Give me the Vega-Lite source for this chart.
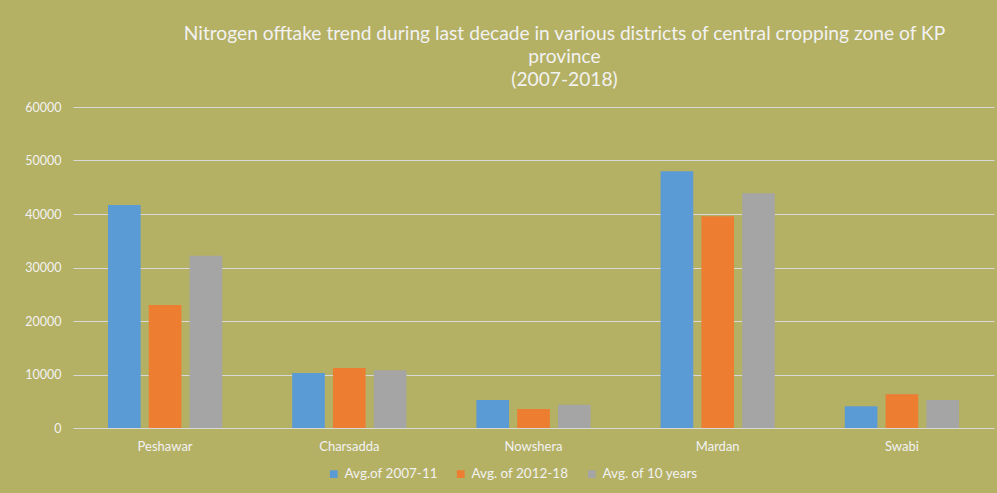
{
  "$schema": "https://vega.github.io/schema/vega-lite/v6.json",
  "autosize": {"type": "none"},
  "width": 921,
  "height": 321,
  "padding": {"left": 73, "top": 107, "right": 3, "bottom": 65},
  "background": "#B4B064",
  "title": {
    "text": ["Nitrogen offtake trend during last decade in various districts of central cropping zone of KP", "province", "(2007-2018)"],
    "font": "Lato",
    "fontSize": 19.2,
    "fontWeight": "normal",
    "color": "#F2F2F2",
    "lineHeight": 23,
    "anchor": "middle",
    "dx": 31,
    "offset": 11
  },
  "data": {
    "values": [
      {"district": "Peshawar", "series": "Avg.of 2007-11", "value": 41700},
      {"district": "Peshawar", "series": "Avg. of 2012-18", "value": 23000},
      {"district": "Peshawar", "series": "Avg. of 10 years", "value": 32200},
      {"district": "Charsadda", "series": "Avg.of 2007-11", "value": 10300},
      {"district": "Charsadda", "series": "Avg. of 2012-18", "value": 11200},
      {"district": "Charsadda", "series": "Avg. of 10 years", "value": 10800},
      {"district": "Nowshera", "series": "Avg.of 2007-11", "value": 5250},
      {"district": "Nowshera", "series": "Avg. of 2012-18", "value": 3550},
      {"district": "Nowshera", "series": "Avg. of 10 years", "value": 4350},
      {"district": "Mardan", "series": "Avg.of 2007-11", "value": 48000},
      {"district": "Mardan", "series": "Avg. of 2012-18", "value": 39600},
      {"district": "Mardan", "series": "Avg. of 10 years", "value": 43900},
      {"district": "Swabi", "series": "Avg.of 2007-11", "value": 4050},
      {"district": "Swabi", "series": "Avg. of 2012-18", "value": 6300},
      {"district": "Swabi", "series": "Avg. of 10 years", "value": 5230}
    ]
  },
  "mark": {"type": "bar"},
  "encoding": {
    "x": {
      "field": "district",
      "type": "nominal",
      "sort": ["Peshawar", "Charsadda", "Nowshera", "Mardan", "Swabi"],
      "scale": {"paddingInner": 0.38, "paddingOuter": 0.19},
      "axis": {
        "title": null,
        "labelAngle": 0,
        "ticks": false,
        "domain": false,
        "labelPadding": 12,
        "labelFont": "Lato",
        "labelFontSize": 13,
        "labelColor": "#F2F2F2"
      }
    },
    "xOffset": {
      "field": "series",
      "type": "nominal",
      "sort": ["Avg.of 2007-11", "Avg. of 2012-18", "Avg. of 10 years"],
      "scale": {"paddingInner": 0.2, "paddingOuter": 0}
    },
    "y": {
      "field": "value",
      "type": "quantitative",
      "scale": {"domain": [0, 60000]},
      "axis": {
        "title": null,
        "values": [0, 10000, 20000, 30000, 40000, 50000, 60000],
        "format": "d",
        "ticks": false,
        "domain": false,
        "grid": true,
        "gridColor": "#D9D9D9",
        "gridWidth": 1,
        "labelPadding": 12,
        "labelFont": "Lato",
        "labelFontSize": 12.5,
        "labelColor": "#F2F2F2"
      }
    },
    "color": {
      "field": "series",
      "type": "nominal",
      "sort": ["Avg.of 2007-11", "Avg. of 2012-18", "Avg. of 10 years"],
      "scale": {
        "domain": ["Avg.of 2007-11", "Avg. of 2012-18", "Avg. of 10 years"],
        "range": ["#5B9BD5", "#ED7D31", "#A5A5A5"]
      },
      "legend": {
        "title": null,
        "orient": "none",
        "direction": "horizontal",
        "legendX": 254,
        "legendY": 360,
        "symbolType": "square",
        "symbolSize": 60,
        "symbolStrokeWidth": 0,
        "labelFont": "Lato",
        "labelFontSize": 13.5,
        "labelColor": "#F2F2F2",
        "columnPadding": 16,
        "labelOffset": 4
      }
    }
  },
  "config": {
    "view": {"stroke": null}
  }
}
